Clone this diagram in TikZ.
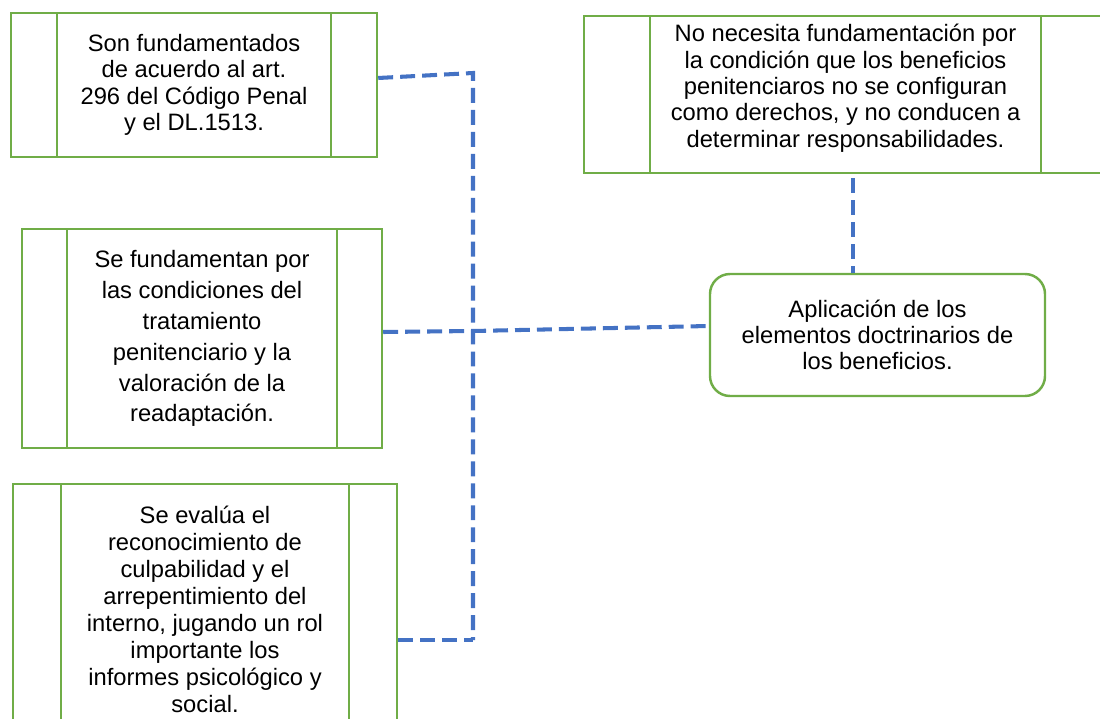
\documentclass[tikz,border=0pt]{standalone}
\usepackage{fontspec}
\setmainfont{Liberation Sans}
\usepackage{xcolor}
\definecolor{cajaverde}{RGB}{112, 173, 71}
\definecolor{lineaazul}{RGB}{68, 114, 196}
\usetikzlibrary{positioning,calc}

\begin{document}
\begin{tikzpicture}[
    proceso/.style={rectangle, draw=cajaverde, line width=1.4pt, fill=white, align=center, inner sep=0pt,
        font=\fontsize{13.5}{15}\selectfont,
        path picture={
            \draw[cajaverde, line width=1.4pt] ([xshift=#1]path picture bounding box.north west) -- ([xshift=#1]path picture bounding box.south west);
            \draw[cajaverde, line width=1.4pt] ([xshift=-#1]path picture bounding box.north east) -- ([xshift=-#1]path picture bounding box.south east);
        }},
    terminal/.style={rectangle, rounded corners=0.4cm, draw=cajaverde, line width=1.4pt, fill=white, align=center,
        font=\fontsize{13.5}{15}\selectfont, minimum width=6.7cm, minimum height=2.44cm},
    enlace/.style={draw=lineaazul, line width=2.3pt, dash pattern=on 8.5pt off 4pt}
]
    \clip (0,0) rectangle (22,-14.38);
    \useasboundingbox (0,0) rectangle (22,-14.38);

    \node[proceso=0.92cm, minimum width=7.32cm, minimum height=2.88cm] (articulo) at (3.88,-1.70) {
        Son fundamentados\\
        de acuerdo al art.\\
        296 del Código Penal\\
        y el DL.1513.
    };

    \node[proceso=0.90cm, minimum width=7.20cm, minimum height=4.38cm, font=\fontsize{13.5}{17.6}\selectfont] (tratamiento) at (4.04,-6.77) {
        Se fundamentan por\\
        las condiciones del\\
        tratamiento\\
        penitenciario y la\\
        valoración de la\\
        readaptación.
    };

    \node[proceso=0.96cm, minimum width=7.68cm, minimum height=5.02cm, font=\fontsize{13.5}{15.4}\selectfont] (culpabilidad) at (4.10,-12.19) {
        Se evalúa el\\
        reconocimiento de\\
        culpabilidad y el\\
        arrepentimiento del\\
        interno, jugando un rol\\
        importante los\\
        informes psicológico y\\
        social.
    };

    \node[proceso=1.32cm, minimum width=10.46cm, minimum height=3.14cm] (derechos) at (16.91,-1.89) {
        No necesita fundamentación por\\
        la condición que los beneficios\\
        penitenciaros no se configuran\\
        como derechos, y no conducen a\\
        determinar responsabilidades.\\[-5pt]\mbox{}
    };

    \node[terminal] (doctrina) at (17.55,-6.70) {
        Aplicación de los\\
        elementos doctrinarios de\\
        los beneficios.
    };

    % Conectores
    \coordinate (e1) at (9.46,-1.46);
    \coordinate (e2) at (9.46,-6.62);
    \coordinate (e3) at (9.46,-12.80);

    \draw[enlace] ([yshift=0.14cm]articulo.east) -- (e1) -- (e3);
    \draw[enlace] ([yshift=0.13cm]tratamiento.east) -- (e2) -- ([yshift=0.18cm]doctrina.west);
    \draw[enlace] ([yshift=-0.61cm]culpabilidad.east) -- (e3);
    \draw[enlace] ([xshift=0.15cm,yshift=-0.08cm]derechos.south) -- ([xshift=0.15cm]derechos.south |- doctrina.north);
\end{tikzpicture}
\end{document}
